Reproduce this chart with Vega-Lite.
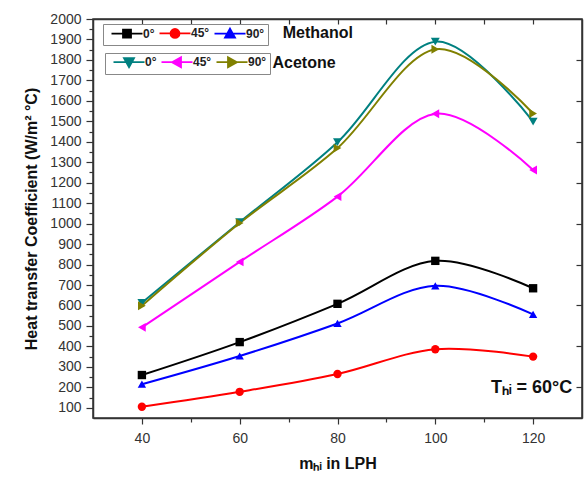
{
  "$schema": "https://vega.github.io/schema/vega-lite/v6.json",
  "width": 489,
  "height": 399,
  "autosize": {"type": "none"},
  "padding": {"left": 93, "top": 19, "right": 2, "bottom": 59},
  "config": {
    "font": "Liberation Sans",
    "view": {"stroke": "#333", "strokeWidth": 1.5},
    "axis": {
      "labelFont": "Liberation Sans", "labelFontSize": 14, "labelColor": "#333",
      "titleFont": "Liberation Sans", "titleFontSize": 16, "titleFontWeight": "bold", "titleColor": "#111",
      "domainColor": "#333", "domainWidth": 1.5, "tickColor": "#333", "tickWidth": 1.2, "grid": false
    },
    "legend": {
      "labelFont": "Liberation Sans", "labelFontSize": 12, "labelFontWeight": "bold", "labelColor": "#222"
    }
  },
  "datasets": {
    "methanol": [
      {"flow": 40, "angle": "0°", "h": 260}, {"flow": 60, "angle": "0°", "h": 421}, {"flow": 80, "angle": "0°", "h": 608}, {"flow": 100, "angle": "0°", "h": 818}, {"flow": 120, "angle": "0°", "h": 684},
      {"flow": 40, "angle": "45°", "h": 105}, {"flow": 60, "angle": "45°", "h": 178}, {"flow": 80, "angle": "45°", "h": 265}, {"flow": 100, "angle": "45°", "h": 386}, {"flow": 120, "angle": "45°", "h": 350},
      {"flow": 40, "angle": "90°", "h": 215}, {"flow": 60, "angle": "90°", "h": 353}, {"flow": 80, "angle": "90°", "h": 512}, {"flow": 100, "angle": "90°", "h": 696}, {"flow": 120, "angle": "90°", "h": 556}
    ],
    "acetone": [
      {"flow": 40, "angle": "0°", "h": 613}, {"flow": 60, "angle": "0°", "h": 1007}, {"flow": 80, "angle": "0°", "h": 1398}, {"flow": 100, "angle": "0°", "h": 1889}, {"flow": 120, "angle": "0°", "h": 1499},
      {"flow": 40, "angle": "45°", "h": 493}, {"flow": 60, "angle": "45°", "h": 813}, {"flow": 80, "angle": "45°", "h": 1132}, {"flow": 100, "angle": "45°", "h": 1537}, {"flow": 120, "angle": "45°", "h": 1262},
      {"flow": 40, "angle": "90°", "h": 599}, {"flow": 60, "angle": "90°", "h": 1003}, {"flow": 80, "angle": "90°", "h": 1369}, {"flow": 100, "angle": "90°", "h": 1852}, {"flow": 120, "angle": "90°", "h": 1538}
    ]
  },
  "layer": [
    {
      "data": {"name": "methanol"},
      "encoding": {
        "x": {"field": "flow", "type": "quantitative", "scale": {"domain": [30, 130], "nice": false, "zero": false},
          "axis": {"orient": "bottom", "values": [40, 50, 60, 70, 80, 90, 100, 110, 120],
            "labelExpr": "datum.value % 20 === 0 ? datum.label : ''",
            "tickSize": {"condition": {"test": "datum.value % 20 === 0", "value": 6}, "value": 4},
            "labelPadding": 7, "title": "mₕᵢ in LPH", "titlePadding": 10}},
        "y": {"field": "h", "type": "quantitative", "scale": {"domain": [50, 2000], "nice": false, "zero": false},
          "axis": {"orient": "left", "values": [100, 150, 200, 250, 300, 350, 400, 450, 500, 550, 600, 650, 700, 750, 800, 850, 900, 950, 1000, 1050, 1100, 1150, 1200, 1250, 1300, 1350, 1400, 1450, 1500, 1550, 1600, 1650, 1700, 1750, 1800, 1850, 1900, 1950, 2000],
            "labelExpr": "datum.value % 100 === 0 ? datum.label : ''",
            "format": "d",
            "tickSize": {"condition": {"test": "datum.value % 100 === 0", "value": 7}, "value": 4},
            "labelPadding": 5, "title": "Heat transfer Coefficient (W/m² °C)", "titlePadding": 10}},
        "color": {"field": "angle", "type": "nominal", "legend": null,
          "scale": {"domain": ["0°", "45°", "90°"], "range": ["#000000", "#ff0000", "#0000ff"]}},
        "shape": {"field": "angle", "type": "nominal", "legend": null,
          "scale": {"domain": ["0°", "45°", "90°"], "range": ["square", "circle", "triangle-up"]}}
      },
      "layer": [
        {"mark": {"type": "line", "interpolate": "cardinal", "strokeWidth": 2}},
        {"mark": {"type": "point", "filled": true, "size": 70, "opacity": 1}}
      ]
    },
    {
      "data": {"name": "acetone"},
      "encoding": {
        "x": {"field": "flow", "type": "quantitative",
          "axis": {"orient": "top", "values": [40, 50, 60, 70, 80, 90, 100, 110, 120], "labels": false, "title": null,
            "tickSize": -5}},
        "y": {"field": "h", "type": "quantitative",
          "axis": {"orient": "right", "values": [200, 400, 600, 800, 1000, 1200, 1400, 1600, 1800],
            "labels": false, "title": null, "tickSize": -6}},
        "color": {"field": "angle", "type": "nominal", "legend": null,
          "scale": {"domain": ["0°", "45°", "90°"], "range": ["#008080", "#ff00ff", "#808000"]}},
        "shape": {"field": "angle", "type": "nominal", "legend": null,
          "scale": {"domain": ["0°", "45°", "90°"], "range": ["triangle-down", "triangle-left", "triangle-right"]}}
      },
      "layer": [
        {"mark": {"type": "line", "interpolate": "cardinal", "strokeWidth": 2}},
        {"mark": {"type": "point", "filled": true, "size": 80, "opacity": 1}}
      ]
    },
    {
      "data": {"name": "methanol"},
      "transform": [{"filter": "datum.h < 0"}],
      "mark": {"type": "point", "filled": true, "opacity": 1},
      "encoding": {
        "fill": {"field": "angle", "type": "nominal",
          "scale": {"domain": ["0°", "45°", "90°"], "range": ["#000000", "#ff0000", "#0000ff"]},
          "legend": {"orient": "none", "legendX": 10, "legendY": 5, "direction": "horizontal",
            "title": " ", "titleOrient": "left", "titleFontSize": 12, "titlePadding": 5,
            "strokeColor": "#888", "padding": 3, "symbolSize": 100, "symbolStrokeWidth": 1.8,
            "symbolOffset": 10, "labelOffset": 10, "columnPadding": 0}},
        "stroke": {"field": "angle", "type": "nominal",
          "scale": {"domain": ["0°", "45°", "90°"], "range": ["#000000", "#ff0000", "#0000ff"]}},
        "shape": {"field": "angle", "type": "nominal",
          "scale": {"domain": ["0°", "45°", "90°"], "range": ["M-3.1,0H3.1M-0.8,-0.8H0.8V0.8H-0.8Z", "M-3.1,0H3.1M0.9,0A0.9,0.9 0 1,1 -0.9,0A0.9,0.9 0 1,1 0.9,0Z", "M-3.1,0H3.1M0,-1L1,0.8H-1Z"]}}
      }
    },
    {
      "data": {"name": "acetone"},
      "transform": [{"filter": "datum.h < 0"}],
      "mark": {"type": "point", "filled": true, "opacity": 1},
      "encoding": {
        "fill": {"field": "angle", "type": "nominal",
          "scale": {"domain": ["0°", "45°", "90°"], "range": ["#008080", "#ff00ff", "#808000"]},
          "legend": {"orient": "none", "legendX": 12, "legendY": 34, "direction": "horizontal",
            "title": " ", "titleOrient": "left", "titleFontSize": 12, "titlePadding": 5,
            "strokeColor": "#888", "padding": 3, "symbolSize": 100, "symbolStrokeWidth": 1.8,
            "symbolOffset": 10, "labelOffset": 10, "columnPadding": 0}},
        "stroke": {"field": "angle", "type": "nominal",
          "scale": {"domain": ["0°", "45°", "90°"], "range": ["#008080", "#ff00ff", "#808000"]}},
        "shape": {"field": "angle", "type": "nominal",
          "scale": {"domain": ["0°", "45°", "90°"], "range": ["M-3.1,0H3.1M0,1L1,-0.8H-1Z", "M-3.1,0H3.1M-1,0L0.8,-1V1Z", "M-3.1,0H3.1M1,0L-0.8,-1V1Z"]}}
      }
    },
    {
      "data": {"values": [{"label": "Methanol"}]},
      "mark": {"type": "text", "align": "left", "baseline": "middle", "fontSize": 16, "fontWeight": "bold", "color": "#111"},
      "encoding": {
        "x": {"datum": 68.8, "type": "quantitative", "axis": null},
        "y": {"datum": 1931, "type": "quantitative", "axis": null},
        "text": {"field": "label"}
      }
    },
    {
      "data": {"values": [{"label": "Acetone"}]},
      "mark": {"type": "text", "align": "left", "baseline": "middle", "fontSize": 16, "fontWeight": "bold", "color": "#111"},
      "encoding": {
        "x": {"datum": 66.7, "type": "quantitative", "axis": null},
        "y": {"datum": 1784, "type": "quantitative", "axis": null},
        "text": {"field": "label"}
      }
    },
    {
      "data": {"values": [{"label": "Tₕᵢ = 60°C"}]},
      "mark": {"type": "text", "align": "right", "baseline": "alphabetic", "fontSize": 18, "fontWeight": "bold", "color": "#111"},
      "encoding": {
        "x": {"datum": 128, "type": "quantitative", "axis": null},
        "y": {"datum": 172, "type": "quantitative", "axis": null},
        "text": {"field": "label"}
      }
    }
  ],
  "resolve": {
    "scale": {"color": "independent", "shape": "independent", "fill": "independent", "stroke": "independent"},
    "axis": {"x": "independent", "y": "independent"}
  }
}
